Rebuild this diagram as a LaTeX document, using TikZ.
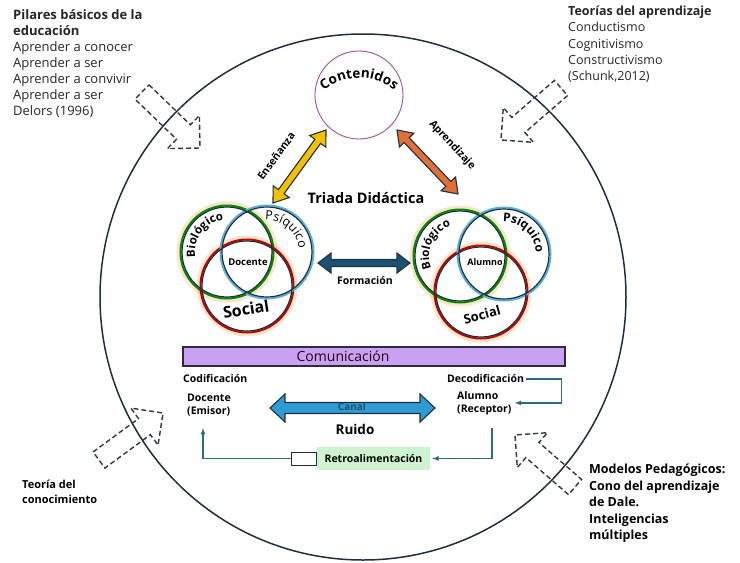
\documentclass[tikz,border=0pt]{standalone}
\usepackage{fontspec}
\setmainfont{Open Sans}
\usetikzlibrary{calc,positioning,decorations.text}
\definecolor{ink}{HTML}{1E2F3C}
\definecolor{dashink}{HTML}{2B3A46}
\definecolor{flow}{HTML}{2E6A87}
\definecolor{lav}{HTML}{C9A1F2}
\definecolor{mint}{HTML}{CFF2D0}
\definecolor{gold}{HTML}{F2C200}
\definecolor{rust}{HTML}{E0703A}
\definecolor{navy}{HTML}{1F5070}
\definecolor{sky}{HTML}{2F9BD5}
\definecolor{plum}{HTML}{A0509A}
% fat double arrow between two points: from, to, half shaft, half head, head length
\newcommand{\fatarrow}[6][]{%
  \filldraw[#1] (#2) -- ($(#2)!#6!(#3)!#5!90:(#3)$) -- ($(#2)!#6!(#3)!#4!90:(#3)$)
    -- ($(#3)!#6!(#2)!#4!-90:(#2)$) -- ($(#3)!#6!(#2)!#5!-90:(#2)$) -- (#3)
    -- ($(#3)!#6!(#2)!#5!90:(#2)$) -- ($(#3)!#6!(#2)!#4!90:(#2)$)
    -- ($(#2)!#6!(#3)!#4!-90:(#3)$) -- ($(#2)!#6!(#3)!#5!-90:(#3)$) -- cycle;}
% block arrow with a right-angle head: tail, tip, half shaft, half head
\newcommand{\blockarrow}[5][]{%
  \draw[#1] ($(#2)!#4!90:(#3)$) -- ($(#3)!#5!(#2)!#4!-90:(#2)$) -- ($(#3)!#5!(#2)!#5!-90:(#2)$)
    -- (#3) -- ($(#3)!#5!(#2)!#5!90:(#2)$) -- ($(#3)!#5!(#2)!#4!90:(#2)$)
    -- ($(#2)!#4!-90:(#3)$) -- cycle;}

\begin{document}
\begin{tikzpicture}[x=1pt,y=1pt,>=latex,
    ring/.style={circle,minimum size=90pt,inner sep=0pt},
    glow/.style={draw=orange!70,line width=5pt,opacity=.3},
    dashbox/.style={draw=dashink,line width=1.4pt,dash pattern=on 5pt off 3pt},
    fat/.style={draw=ink,line width=1.1pt},
    flowline/.style={draw=flow,line width=1.2pt},
    small/.style={font=\bfseries\fontsize{10.5}{13}\selectfont},
    side/.style={align=left,anchor=north west,inner sep=0pt}]
  \useasboundingbox (0,0) rectangle (740,-563);

  % outer frame
  \node[draw=ink,circle,line width=1.5pt,minimum size=526pt,inner sep=0pt] (world) at (363,-297) {};

  % side texts
  \node[side,text=black!85,font=\fontsize{13}{16}\selectfont] (pilares) at (13,-9)
    {\textbf{Pilares básicos de la}\\\textbf{educación}\\Aprender a conocer\\Aprender a ser\\Aprender a convivir\\Aprender a ser\\Delors (1996)};
  \node[side,text=black!85,font=\fontsize{12.5}{16.2}\selectfont] (teorias) at (568,-6)
    {\textbf{Teorías del aprendizaje}\\Conductismo\\Cognitivismo\\Constructivismo\\(Schunk,2012)};
  \node[side,font=\bfseries\fontsize{11}{14.5}\selectfont] (conoc) at (22,-480)
    {Teoría del\\conocimiento};
  \node[side,font=\bfseries\fontsize{12.5}{16.5}\selectfont] (modelos) at (589,-464)
    {Modelos Pedagógicos:\\Cono del aprendizaje\\de Dale.\\Inteligencias\\múltiples};

  % dashed block arrows
  \coordinate (tlA) at (142,-92);  \coordinate (tlB) at (200,-148);
  \coordinate (trA) at (561,-88);  \coordinate (trB) at (501,-140);
  \coordinate (blA) at (99,-460);  \coordinate (blB) at (163,-413);
  \coordinate (brA) at (575,-487); \coordinate (brB) at (515,-435);
  \blockarrow[dashbox]{tlA}{tlB}{10pt}{23pt}
  \blockarrow[dashbox]{trA}{trB}{10pt}{23pt}
  \blockarrow[dashbox]{blA}{blB}{10pt}{23pt}
  \blockarrow[dashbox]{brA}{brB}{10pt}{23pt}

  % contents
  \node[draw=plum,circle,line width=.9pt,minimum size=88pt,inner sep=0pt] (cont) at (359,-95) {};
  \path[decorate,decoration={text along path,text align=center,
      text={|\bfseries\fontsize{13.5}{15}\selectfont|Contenidos}}]
    (359,-135) ++(140:57) arc[start angle=140,end angle=40,radius=57];

  % triad arrows
  \coordinate (ensA) at (273,-203); \coordinate (ensB) at (326,-130);
  \coordinate (aprA) at (397,-130); \coordinate (aprB) at (458,-194);
  \fatarrow[fat,fill=gold]{ensA}{ensB}{3.5pt}{10pt}{14pt}
  \fatarrow[fat,fill=rust]{aprA}{aprB}{3.5pt}{10pt}{14pt}
  \node[small,rotate=54] (ens) at (276,-156) {Enseñanza};
  \node[small,rotate=-47] (apr) at (452,-145) {Aprendizaje};
  \node[font=\bfseries\fontsize{14.5}{16}\selectfont] (triada) at (366,-198) {Triada Didáctica};

  % teacher rings
  \node[ring] (bioD) at (227,-252) {};
  \node[ring] (psiD) at (267,-252) {};
  \node[ring] (socD) at (247,-286) {};
  \draw[glow] (bioD) circle[radius=48];
  \draw[glow] (socD) circle[radius=48];
  \draw[green!55!black,line width=2pt] (bioD) circle[radius=46.5];
  \draw[red!75!black,line width=2pt] (socD) circle[radius=46.5];
  \draw[sky!80,line width=2pt] (psiD) circle[radius=46.5];
  \foreach \c in {bioD,psiD,socD} \draw[ink,line width=1.2pt] (\c) circle[radius=45];
  \path[decorate,decoration={text along path,text align=center,
      text={|\bfseries\fontsize{11.5}{13}\selectfont|Biológico}}]
    (bioD) ++(205:32) arc[start angle=205,end angle=80,radius=32];
  \path[decorate,decoration={text along path,text align=center,
      text={|\fontsize{12.5}{14}\selectfont|Psíquico}}]
    (psiD) ++(105:32) arc[start angle=105,end angle=-5,radius=32];
  \node[font=\bfseries\fontsize{16}{18}\selectfont,rotate=9] (socTD) at (246,-309) {Social};
  \node[font=\bfseries\fontsize{9.5}{11}\selectfont] (docTD) at (248,-262) {Docente};

  % student rings
  \node[ring] (bioA) at (460,-256) {};
  \node[ring] (psiA) at (504,-254) {};
  \node[ring] (socA) at (481,-292) {};
  \draw[glow] (bioA) circle[radius=48];
  \draw[glow] (socA) circle[radius=48];
  \draw[green!55!black,line width=2pt] (bioA) circle[radius=46.5];
  \draw[red!75!black,line width=2pt] (socA) circle[radius=46.5];
  \draw[sky!80,line width=2pt] (psiA) circle[radius=46.5];
  \foreach \c in {bioA,psiA,socA} \draw[ink,line width=1.2pt] (\c) circle[radius=45];
  \path[decorate,decoration={text along path,text align=center,
      text={|\bfseries\fontsize{11.5}{13}\selectfont|Biológico}}]
    (bioA) ++(220:31) arc[start angle=220,end angle=90,radius=31];
  \path[decorate,decoration={text along path,text align=center,
      text={|\bfseries\fontsize{12}{14}\selectfont|Psíquico}}]
    (psiA) ++(100:32) arc[start angle=100,end angle=-5,radius=32];
  \node[font=\bfseries\fontsize{13}{15}\selectfont,rotate=15] (socTA) at (482,-315) {Social};
  \node[font=\bfseries\fontsize{9}{11}\selectfont] (aluTA) at (485,-262) {Alumno};

  % formation
  \coordinate (forA) at (318,-263); \coordinate (forB) at (410,-263);
  \fatarrow[fat,draw=navy!70!black,fill=navy]{forA}{forB}{3.5pt}{10pt}{13pt}
  \node[small] (form) at (365,-281) {Formación};

  % communication
  \node[draw=ink!90!purple,fill=lav,line width=1.3pt,minimum width=382pt,minimum height=19pt,inner sep=0pt] (comun) at (374,-356.5) {};
  \node[text=black!75!purple,font=\fontsize{14}{16}\selectfont] (comunT) at (343,-356.5) {Comunicación};
  \node[small,anchor=west,inner sep=0pt] (codif) at (183,-379) {Codificación};
  \node[small,anchor=west,inner sep=0pt] (decodif) at (447,-379) {Decodificación};
  \node[small,align=left,anchor=north west,inner sep=0pt] (docente) at (187,-394) {Docente\\(Emisor)};
  \node[small,align=left,anchor=north west,inner sep=0pt] (alumno) at (457,-391) {Alumno\\(Receptor)};
  \coordinate (canA) at (270,-408); \coordinate (canB) at (435,-408);
  \fatarrow[fat,fill=sky]{canA}{canB}{5.5pt}{14pt}{15pt}
  \node[text=navy,font=\bfseries\fontsize{10}{11}\selectfont] (canal) at (352,-407) {Canal};
  \node[font=\bfseries\fontsize{13.5}{15}\selectfont] (ruido) at (355,-429) {Ruido};
  \node[fill=mint,minimum width=113pt,minimum height=23pt,inner sep=0pt,small] (retro) at (373.5,-458.5) {Retroalimentación};
  \node[draw=ink,line width=1pt,fill=white,minimum width=25pt,minimum height=13pt,inner sep=0pt,left=0pt of retro] (tab) {};

  \draw[flowline,->] ([xshift=2pt]decodif.east) -- ++(35,0) |- ([xshift=3pt]alumno.east);
  \draw[flowline,->] (492,-428) |- ([xshift=2pt]retro.east);
  \draw[flowline,->] (tab.west) -| (203,-428);
\end{tikzpicture}
\end{document}
